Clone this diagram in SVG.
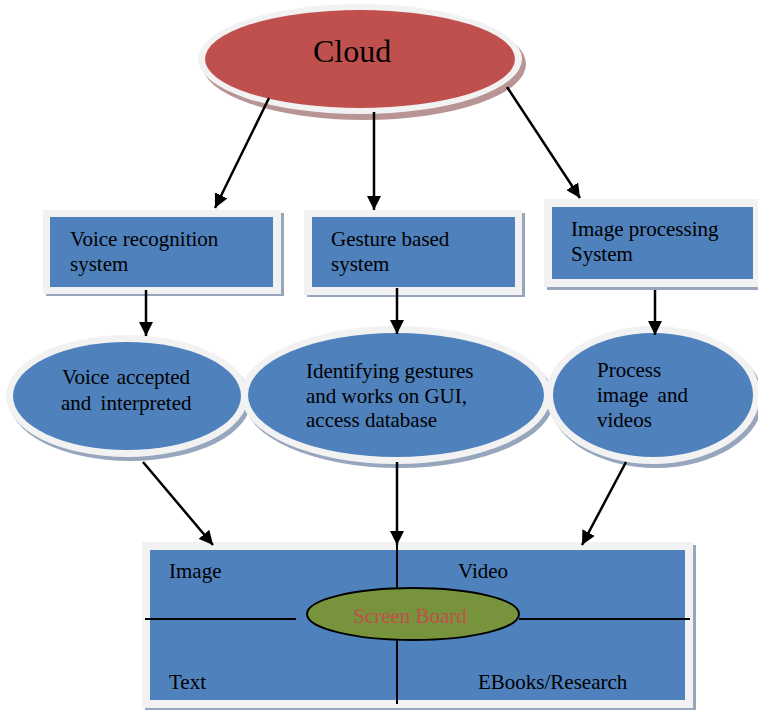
<svg xmlns="http://www.w3.org/2000/svg" width="758" height="710" viewBox="0 0 758 710">
<defs>
<style>
.t{font-family:"Liberation Serif","Times New Roman",serif;font-size:21px;fill:#000}
.ring{fill:#f2f2f2}
.sh{fill:#97a6bd}
.blue{fill:#4f81bd}
.ln{stroke:#000;stroke-width:2.5;fill:none}
.thin{stroke:#000;stroke-width:2;fill:none}
</style>
<marker id="ah" markerUnits="userSpaceOnUse" markerWidth="15" markerHeight="14" refX="14" refY="7" orient="auto">
<path d="M0,0 L14,7 L0,14 z" fill="#000"/>
</marker>
</defs>
<rect width="758" height="710" fill="#fff"/>

<g id="cloud">
<ellipse cx="364" cy="64" rx="162" ry="56" fill="#b89494"/>
<ellipse cx="360" cy="59" rx="162" ry="55" class="ring"/>
<ellipse cx="360" cy="59" rx="155" ry="49" fill="#c0504d"/>
<text x="313" y="62" class="t" style="font-size:32px">Cloud</text>
</g>

<g id="voice-box">
<rect x="46" y="213" width="238" height="83" class="sh"/>
<rect x="43" y="210" width="238" height="84" class="ring"/>
<rect x="50" y="217" width="223" height="70" class="blue"/>
<text x="70" y="246" class="t">Voice recognition</text>
<text x="70" y="271" class="t">system</text>
</g>

<g id="gesture-box">
<rect x="307" y="213" width="218" height="84" class="sh"/>
<rect x="304" y="210" width="218" height="85" class="ring"/>
<rect x="312" y="217" width="203" height="70" class="blue"/>
<text x="331" y="246" class="t">Gesture based</text>
<text x="331" y="271" class="t">system</text>
</g>

<g id="image-box">
<rect x="547" y="202" width="216" height="88" class="sh"/>
<rect x="544" y="199" width="216" height="88" class="ring"/>
<rect x="552" y="207" width="201" height="72" class="blue"/>
<text x="571" y="236" class="t">Image processing</text>
<text x="571" y="261" class="t">System</text>
</g>

<g id="voice-ellipse">
<ellipse cx="130" cy="400" rx="121" ry="61" class="sh"/>
<ellipse cx="127" cy="396" rx="121" ry="61" class="ring"/>
<ellipse cx="127" cy="396" rx="114" ry="54" class="blue"/>
<text x="62" y="384" class="t" word-spacing="2">Voice accepted</text>
<text x="61" y="410" class="t" word-spacing="4">and interpreted</text>
</g>

<g id="gesture-ellipse">
<ellipse cx="399" cy="399" rx="155" ry="69" class="sh"/>
<ellipse cx="396" cy="395" rx="155" ry="69" class="ring"/>
<ellipse cx="396" cy="395" rx="148" ry="62" class="blue"/>
<text x="306" y="378" class="t">Identifying gestures</text>
<text x="306" y="403" class="t">and works on GUI,</text>
<text x="306" y="427" class="t">access database</text>
</g>

<g id="process-ellipse">
<ellipse cx="656" cy="399" rx="107" ry="69" class="sh"/>
<ellipse cx="653" cy="395" rx="107" ry="69" class="ring"/>
<ellipse cx="653" cy="395" rx="100" ry="62" class="blue"/>
<text x="597" y="377" class="t">Process</text>
<text x="597" y="402" class="t" word-spacing="4">image and</text>
<text x="597" y="427" class="t">videos</text>
</g>

<g id="screen-panel">
<rect x="145" y="545" width="551" height="166" class="sh"/>
<rect x="142" y="542" width="551" height="166" class="ring"/>
<rect x="150" y="550" width="535" height="150" class="blue"/>
<text x="169" y="578" class="t">Image</text>
<text x="458" y="578" class="t">Video</text>
<text x="169" y="689" class="t">Text</text>
<text x="478" y="689" class="t">EBooks/Research</text>
<line x1="145" y1="619" x2="296" y2="619" class="thin"/>
<line x1="519" y1="619" x2="690" y2="619" class="thin"/>
<line x1="397" y1="543" x2="397" y2="588" class="thin"/>
<line x1="397" y1="640" x2="397" y2="704" class="thin"/>
</g>

<g id="screen-board">
<ellipse cx="413" cy="614" rx="106" ry="26" fill="#77933c" stroke="#000" stroke-width="2"/>
<text x="410" y="623" class="t" text-anchor="middle" fill="#c0504d" style="fill:#c0504d">Screen Board</text>
</g>

<g id="connectors">
<line x1="269" y1="98" x2="215" y2="208" class="ln" marker-end="url(#ah)"/>
<line x1="374" y1="112" x2="374" y2="210" class="ln" marker-end="url(#ah)"/>
<line x1="507" y1="87" x2="580" y2="198" class="ln" marker-end="url(#ah)"/>
<line x1="146" y1="290" x2="146" y2="336" class="ln" marker-end="url(#ah)"/>
<line x1="397" y1="288" x2="397" y2="334" class="ln" marker-end="url(#ah)"/>
<line x1="655" y1="290" x2="655" y2="335" class="ln" marker-end="url(#ah)"/>
<line x1="143" y1="462" x2="213" y2="545" class="ln" marker-end="url(#ah)"/>
<line x1="397" y1="462" x2="397" y2="545" class="ln" marker-end="url(#ah)"/>
<line x1="626" y1="462" x2="582" y2="545" class="ln" marker-end="url(#ah)"/>
</g>
</svg>
